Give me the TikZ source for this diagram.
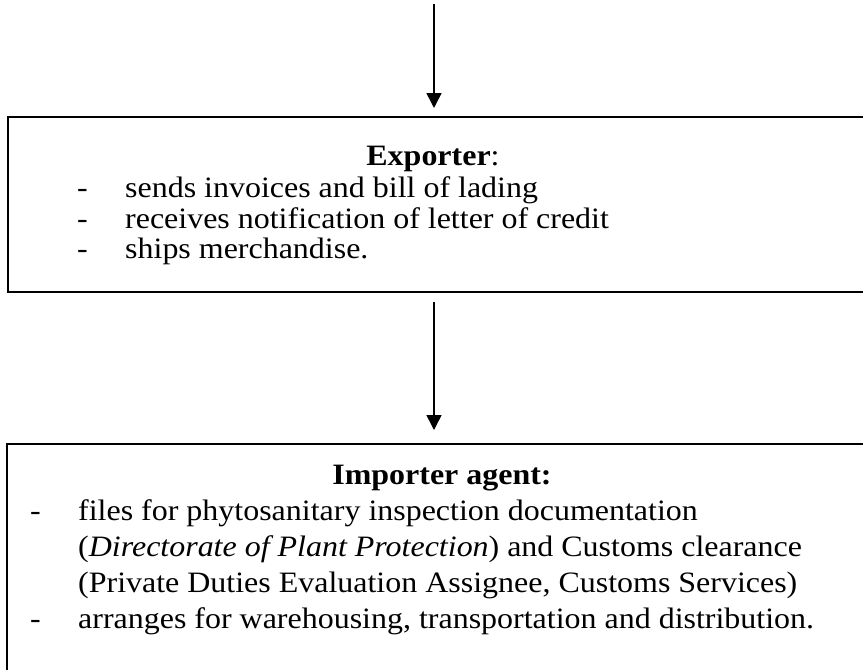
\documentclass[tikz,border=0pt]{standalone}
\usepackage{fontspec}
\setmainfont[FakeStretch=1.08]{Liberation Serif}
\usetikzlibrary{arrows.meta}

\begin{document}
\begin{tikzpicture}[x=1pt,y=-1pt,
  txt/.style={anchor=base west,inner sep=0pt,font=\fontsize{29.6}{35}\selectfont},
  ttl/.style={anchor=base,inner sep=0pt,font=\fontsize{29.6}{35}\selectfont\bfseries},
  flow/.style={line width=1.6pt,-{Triangle[width=15pt,length=15pt]}}]
\useasboundingbox (0,0) rectangle (863,670);
\clip (0,0) rectangle (863,670);

\coordinate (S) at (434,4);
\coordinate (A) at (8,117);
\coordinate (B) at (880,292);
\coordinate (C) at (7,444);
\coordinate (D) at (880,700);
\coordinate (T1) at (434,108);
\coordinate (S2) at (434,302);
\coordinate (T2) at (434,430);

\draw[line width=1.5pt] (A) rectangle (B);
\draw[line width=2.4pt] (C) rectangle (D);
\draw[flow] (S) -- (T1);
\draw[flow] (S2) -- (T2);

\node[ttl] (exptitle) at (433,165) {Exporter\mdseries:};
\node[txt] (expd1) at (77,197) {-};
\node[txt] (exp1) at (125,197) {sends invoices and bill of lading};
\node[txt] (expd2) at (77,228) {-};
\node[txt] (exp2) at (125,228) {receives notification of letter of credit};
\node[txt] (expd3) at (77,258) {-};
\node[txt] (exp3) at (125,258) {ships merchandise.};

\node[ttl] (imptitle) at (442,484) {Importer agent:};
\node[txt] (impd1) at (30,520) {-};
\node[txt] (imp1) at (78,520) {files for phytosanitary inspection documentation};
\node[txt] (imp2) at (78,556) {(\textit{Directorate of Plant Protection}) and Customs clearance};
\node[txt] (imp3) at (78,592) {(Private Duties Evaluation Assignee, Customs Services)};
\node[txt] (impd4) at (30,628) {-};
\node[txt] (imp4) at (78,628) {arranges for warehousing, transportation and distribution.};

  \end{tikzpicture}
\end{document}
